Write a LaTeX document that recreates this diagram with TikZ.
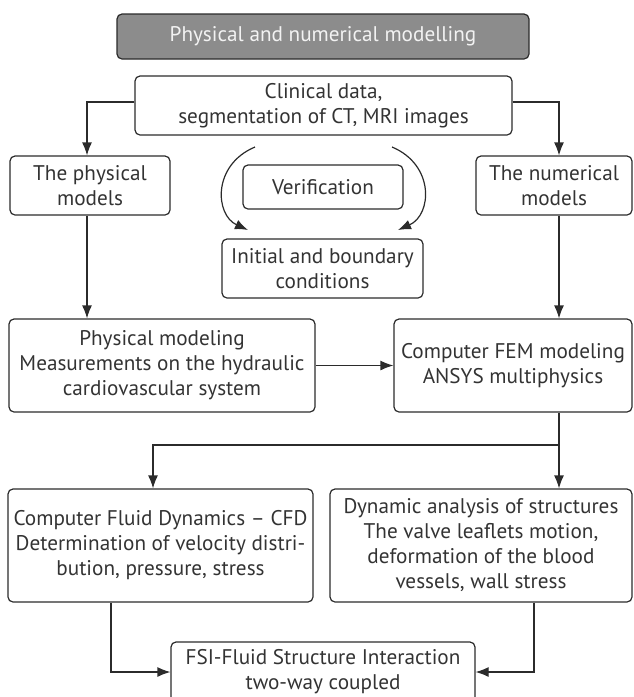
\documentclass[tikz,border=0pt]{standalone}
\usepackage{fontspec}
\setmainfont{PT Sans}
\usetikzlibrary{arrows.meta}
\definecolor{lncol}{HTML}{2B2B2B}
\definecolor{txcol}{HTML}{333333}
\definecolor{tfill}{HTML}{8C8C8C}
\begin{document}
\begin{tikzpicture}[x=1pt,y=-1pt,
  box/.style={draw=lncol,line width=1.2pt,rounded corners=5pt,align=center,inner sep=0pt,text=txcol,font=\fontsize{21.2}{25}\selectfont},
  conn/.style={draw=lncol,line width=1.2pt},
  arr/.style={conn,-{Latex[length=13pt,width=10pt]}}]
\useasboundingbox (0,0) rectangle (633,697);
\node[box,minimum width=412pt,minimum height=45pt,fill=tfill,text=white!95!black] (title) at (323,36.5) {Physical and numerical modelling};
\node[box,minimum width=377pt,minimum height=59pt] (clinical) at (323.5,105.5) {Clinical data,\\segmentation of CT, MRI images};
\node[box,minimum width=160pt,minimum height=59pt] (physical) at (90,185.5) {The physical\\models};
\node[box,minimum width=156pt,minimum height=59pt] (numerical) at (554,185.5) {The numerical\\models};
\node[box,minimum width=160pt,minimum height=44pt] (verif) at (323,187) {Verification};
\node[box,minimum width=201pt,minimum height=59pt] (initial) at (322.5,268.5) {Initial and boundary\\conditions};
\node[box,minimum width=306pt,minimum height=93pt] (physmod) at (162,365.5) {Physical modeling\\Measurements on the hydraulic\\cardiovascular system};
\node[box,minimum width=238pt,minimum height=93pt] (fem) at (513,365.5) {Computer FEM modeling\\ANSYS multiphysics};
\node[box,minimum width=305pt,minimum height=113pt] (cfd) at (160.5,545.5) {Computer Fluid Dynamics -- CFD\\Determination of velocity distri-\\bution, pressure, stress};
\node[box,minimum width=302pt,minimum height=113pt] (dyn) at (481,545.5) {Dynamic analysis of structures\\The valve leaflets motion,\\deformation of the blood\\vessels, wall stress};
\node[box,minimum width=304pt,minimum height=60pt] (fsi) at (323,672) {FSI-Fluid Structure Interaction\\two-way coupled};
% connectors
\draw[arr] ([yshift=3.5pt]clinical.west) -| ([xshift=-3pt]physical.north);
\draw[arr] ([yshift=3.5pt]clinical.east) -| ([xshift=5pt]numerical.north);
\draw[arr] ([xshift=-3pt]physical.south) -- ([xshift=-3pt]physical.south |- physmod.north);
\draw[arr] ([xshift=5pt]numerical.south) -- ([xshift=5pt]numerical.south |- fem.north);
\draw[arr] (physmod.east) -- (fem.west);
\coordinate (br) at (559,445);
\draw[arr] ([xshift=46pt]fem.south) -- ([xshift=46pt]fem.south |- dyn.north);
\draw[arr] (br) -| ([xshift=-7.5pt]cfd.north);
\draw[arr] ([xshift=-49.5pt]cfd.south) |- (fsi.west);
\draw[arr] ([xshift=53pt]dyn.south) |- (fsi.east);
% verification arcs
\coordinate (a1) at (255,147);
\coordinate (a2) at (248,230);
\coordinate (b1) at (392,147);
\coordinate (b2) at (398,230);
\draw[arr] (a1) .. controls (212,165) and (215,215) .. (a2);
\draw[arr] (b1) .. controls (435,165) and (432,215) .. (b2);
\end{tikzpicture}
\end{document}
